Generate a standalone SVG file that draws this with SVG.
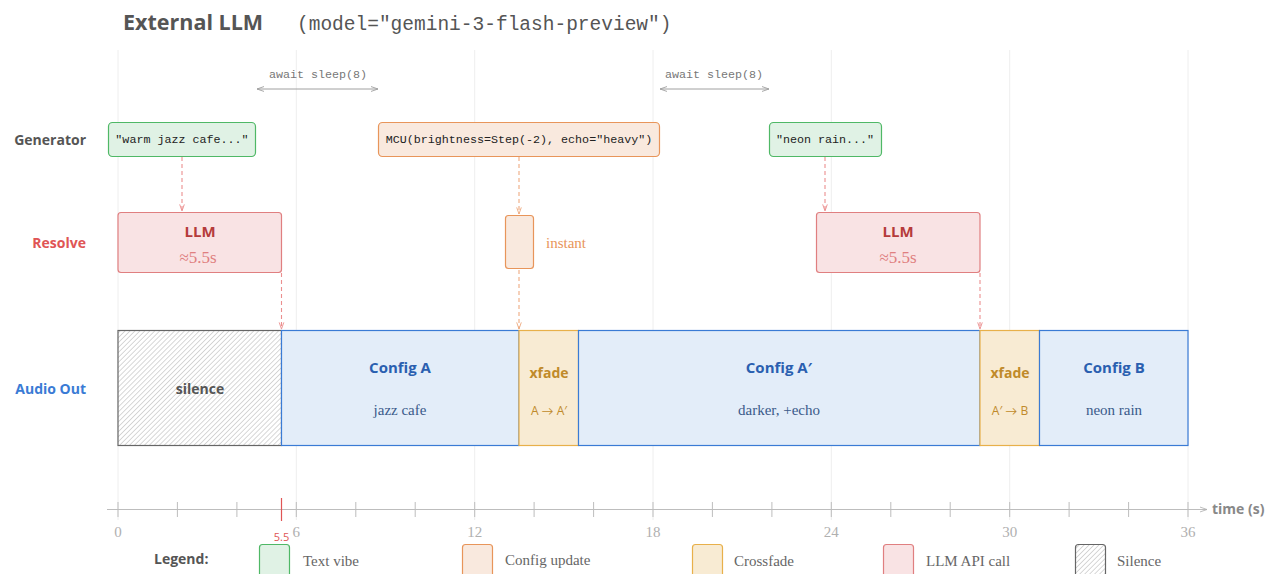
<svg xmlns="http://www.w3.org/2000/svg" width="1272" height="574" viewBox="0 0 1272 574">
  <defs>
    <pattern id="hatch" patternUnits="userSpaceOnUse" width="3.5" height="3.5" patternTransform="rotate(45)">
      <rect width="3.5" height="3.5" fill="#ffffff"/>
      <line x1="0" y1="0" x2="0" y2="3.5" stroke="#a8a8a8" stroke-width="0.9"/>
    </pattern>
    <marker id="arrGray" viewBox="0 0 10 10" refX="10" refY="5" markerWidth="7" markerHeight="7" orient="auto-start-reverse">
      <path d="M0,1.5 L10,5 L0,8.5" fill="none" stroke="#a0a0a0" stroke-width="1.3"/>
    </marker>
    <marker id="arrRed" viewBox="0 0 10 10" refX="10" refY="5" markerWidth="6" markerHeight="6" orient="auto">
      <path d="M0,1.5 L10,5 L0,8.5" fill="none" stroke="#eb8f8f" stroke-width="1.4"/>
    </marker>
    <marker id="arrOrange" viewBox="0 0 10 10" refX="10" refY="5" markerWidth="6" markerHeight="6" orient="auto">
      <path d="M0,1.5 L10,5 L0,8.5" fill="none" stroke="#eeaa80" stroke-width="1.4"/>
    </marker>
    <marker id="arrAxis" viewBox="0 0 10 10" refX="10" refY="5" markerWidth="7" markerHeight="7" orient="auto">
      <path d="M0,1.5 L10,5 L0,8.5" fill="none" stroke="#b0b0b0" stroke-width="1.2"/>
    </marker>
  </defs>
  <style>
    .sans { font-family: "Open Sans", "Lato", "DejaVu Sans", sans-serif; }
    .serif { font-family: "Liberation Serif", "DejaVu Serif", serif; }
    .mono { font-family: "Liberation Mono", "DejaVu Sans Mono", monospace; }
    .grid { stroke: #eeeeee; stroke-width: 1; }
    .tick { stroke: #bdbdbd; stroke-width: 1; }
    .ticklbl { font-family: "Liberation Serif", "DejaVu Serif", serif; font-size: 15px; fill: #b0b0b0; text-anchor: middle; }
    .rowlbl { font-family: "Open Sans", "Lato", sans-serif; font-size: 14px; font-weight: 700; text-anchor: end; }
    .gen { fill: #e0f2e5; stroke: #4fb866; stroke-width: 1.2; }
    .upd { fill: #f9e9de; stroke: #e8955a; stroke-width: 1.2; }
    .llm { fill: #f9e3e4; stroke: #e07f80; stroke-width: 1.2; }
    .cfg { fill: #e3edf9; stroke: #3a7bd5; stroke-width: 1.2; }
    .xf { fill: #f8ebd3; stroke: #e8b04a; stroke-width: 1.2; }
    .sil { fill: url(#hatch); stroke: #666666; stroke-width: 1.2; }
    .code { font-family: "Liberation Mono", "DejaVu Sans Mono", monospace; font-size: 11.7px; fill: #222222; text-anchor: middle; }
    .cfgT { font-family: "Open Sans", "Lato", sans-serif; font-size: 15px; font-weight: 700; fill: #2a5fb0; text-anchor: middle; }
    .cfgS { font-family: "Liberation Serif", "DejaVu Serif", serif; font-size: 15px; fill: #3a5a8a; text-anchor: middle; }
    .xfT { font-family: "Open Sans", "Lato", sans-serif; font-size: 14px; font-weight: 700; fill: #c08a2a; text-anchor: middle; }
    .xfS { font-family: "Open Sans", "Lato", sans-serif; font-size: 12px; fill: #c08a2a; text-anchor: middle; }
    .llmT { font-family: "Open Sans", "Lato", sans-serif; font-size: 15px; font-weight: 700; fill: #b53b3b; text-anchor: middle; }
    .llmS { font-family: "Liberation Serif", "DejaVu Serif", serif; font-size: 17px; fill: #e07f80; text-anchor: middle; }
    .legT { font-family: "Liberation Serif", "DejaVu Serif", serif; font-size: 15px; fill: #666666; }
    .dashR { stroke: #eb8f8f; stroke-width: 1.1; stroke-dasharray: 4 3; fill: none; }
    .dashO { stroke: #eeaa80; stroke-width: 1.1; stroke-dasharray: 4 3; fill: none; }
  </style>

  <rect width="1272" height="574" fill="#ffffff"/>

  <!-- title -->
  <text x="123" y="30" class="sans" font-size="21.5" font-weight="700" fill="#555555">External LLM</text>
  <text x="297" y="30" class="mono" font-size="19.5" fill="#555555">(model="gemini-3-flash-preview")</text>

  <!-- vertical grid every 6 s -->
  <g id="grid">
    <line class="grid" x1="118" y1="50" x2="118" y2="520"/>
    <line class="grid" x1="296.3" y1="50" x2="296.3" y2="520"/>
    <line class="grid" x1="474.7" y1="50" x2="474.7" y2="520"/>
    <line class="grid" x1="653" y1="50" x2="653" y2="520"/>
    <line class="grid" x1="831.3" y1="50" x2="831.3" y2="520"/>
    <line class="grid" x1="1009.7" y1="50" x2="1009.7" y2="520"/>
    <line class="grid" x1="1188" y1="50" x2="1188" y2="520"/>
  </g>

  <!-- row labels -->
  <g id="row-labels">
    <text x="86" y="145" class="rowlbl" fill="#555555">Generator</text>
    <text x="86" y="248" class="rowlbl" fill="#e05555">Resolve</text>
    <text x="86" y="394" class="rowlbl" fill="#3a7bd5">Audio Out</text>
  </g>

  <!-- sleep intervals -->
  <g id="sleeps">
    <text x="318" y="78" class="mono" font-size="11.7" fill="#777777" text-anchor="middle">await sleep(8)</text>
    <line x1="257" y1="89" x2="378" y2="89" stroke="#a0a0a0" stroke-width="1" marker-start="url(#arrGray)" marker-end="url(#arrGray)"/>
    <text x="714" y="78" class="mono" font-size="11.7" fill="#777777" text-anchor="middle">await sleep(8)</text>
    <line x1="660" y1="89" x2="769" y2="89" stroke="#a0a0a0" stroke-width="1" marker-start="url(#arrGray)" marker-end="url(#arrGray)"/>
  </g>

  <!-- connectors -->
  <g id="connectors">
    <line class="dashR" x1="182" y1="157" x2="182" y2="211" marker-end="url(#arrRed)"/>
    <line class="dashO" x1="519" y1="157" x2="519" y2="214" marker-end="url(#arrOrange)"/>
    <line class="dashR" x1="825" y1="157" x2="825" y2="211" marker-end="url(#arrRed)"/>
    <line class="dashR" x1="281.5" y1="273" x2="281.5" y2="329" marker-end="url(#arrRed)"/>
    <line class="dashO" x1="519" y1="270" x2="519" y2="329" marker-end="url(#arrOrange)"/>
    <line class="dashR" x1="980" y1="273" x2="980" y2="329" marker-end="url(#arrRed)"/>
  </g>

  <!-- generator row -->
  <g id="gen-warm-jazz">
    <rect class="gen" x="108.5" y="122.5" width="147" height="34" rx="4"/>
    <text x="182" y="143" class="code">"warm jazz cafe..."</text>
  </g>
  <g id="gen-mcu">
    <rect class="upd" x="378.5" y="122.5" width="281" height="34" rx="4"/>
    <text x="519" y="143" class="code">MCU(brightness=Step(-2), echo="heavy")</text>
  </g>
  <g id="gen-neon-rain">
    <rect class="gen" x="769.5" y="122.5" width="112" height="34" rx="4"/>
    <text x="825" y="143" class="code">"neon rain..."</text>
  </g>

  <!-- resolve row -->
  <g id="llm-1">
    <rect class="llm" x="118" y="212.5" width="163.5" height="60" rx="3"/>
    <text x="200" y="237" class="llmT">LLM</text>
    <text x="198" y="263" class="llmS">≈5.5s</text>
  </g>
  <g id="instant">
    <rect class="upd" x="505.5" y="215.5" width="28" height="53" rx="3"/>
    <text x="546" y="248" class="serif" font-size="15" fill="#e8955a">instant</text>
  </g>
  <g id="llm-2">
    <rect class="llm" x="816.5" y="212.5" width="163.5" height="60" rx="3"/>
    <text x="898" y="237" class="llmT">LLM</text>
    <text x="898" y="263" class="llmS">≈5.5s</text>
  </g>

  <!-- audio out row -->
  <g id="silence">
    <rect class="sil" x="118" y="330.5" width="163.5" height="115"/>
    <text x="200" y="394" class="sans" font-size="14" font-weight="700" fill="#555555" text-anchor="middle">silence</text>
  </g>
  <g id="config-a">
    <rect class="cfg" x="281.5" y="330.5" width="237.5" height="115"/>
    <text x="400" y="373" class="cfgT">Config A</text>
    <text x="400" y="415" class="cfgS">jazz cafe</text>
  </g>
  <g id="xfade-1">
    <rect class="xf" x="519" y="330.5" width="59.5" height="115"/>
    <text x="549" y="378" class="xfT">xfade</text>
    <text x="549" y="415" class="xfS">A → A′</text>
  </g>
  <g id="config-a-prime">
    <rect class="cfg" x="578.5" y="330.5" width="401.5" height="115"/>
    <text x="779" y="373" class="cfgT">Config A′</text>
    <text x="779" y="415" class="cfgS">darker, +echo</text>
  </g>
  <g id="xfade-2">
    <rect class="xf" x="980" y="330.5" width="59.5" height="115"/>
    <text x="1010" y="378" class="xfT">xfade</text>
    <text x="1010" y="415" class="xfS">A′ → B</text>
  </g>
  <g id="config-b">
    <rect class="cfg" x="1039.5" y="330.5" width="148.5" height="115"/>
    <text x="1114" y="373" class="cfgT">Config B</text>
    <text x="1114" y="415" class="cfgS">neon rain</text>
  </g>

  <!-- time axis -->
  <g id="axis">
    <line x1="107" y1="509.5" x2="1207" y2="509.5" stroke="#bdbdbd" stroke-width="1" marker-end="url(#arrAxis)"/>
    <g class="tick">
      <line x1="118" y1="502" x2="118" y2="517"/>
      <line x1="177.4" y1="502" x2="177.4" y2="517"/>
      <line x1="236.9" y1="502" x2="236.9" y2="517"/>
      <line x1="296.3" y1="502" x2="296.3" y2="517"/>
      <line x1="355.8" y1="502" x2="355.8" y2="517"/>
      <line x1="415.2" y1="502" x2="415.2" y2="517"/>
      <line x1="474.7" y1="502" x2="474.7" y2="517"/>
      <line x1="534.1" y1="502" x2="534.1" y2="517"/>
      <line x1="593.6" y1="502" x2="593.6" y2="517"/>
      <line x1="653" y1="502" x2="653" y2="517"/>
      <line x1="712.4" y1="502" x2="712.4" y2="517"/>
      <line x1="771.9" y1="502" x2="771.9" y2="517"/>
      <line x1="831.3" y1="502" x2="831.3" y2="517"/>
      <line x1="890.8" y1="502" x2="890.8" y2="517"/>
      <line x1="950.2" y1="502" x2="950.2" y2="517"/>
      <line x1="1009.7" y1="502" x2="1009.7" y2="517"/>
      <line x1="1069.1" y1="502" x2="1069.1" y2="517"/>
      <line x1="1128.6" y1="502" x2="1128.6" y2="517"/>
      <line x1="1188" y1="502" x2="1188" y2="517"/>
    </g>
    <line x1="281.5" y1="498" x2="281.5" y2="521" stroke="#e05555" stroke-width="1.2"/>
    <text x="118" y="537" class="ticklbl">0</text>
    <text x="296.3" y="537" class="ticklbl">6</text>
    <text x="474.7" y="537" class="ticklbl">12</text>
    <text x="653" y="537" class="ticklbl">18</text>
    <text x="831.3" y="537" class="ticklbl">24</text>
    <text x="1009.7" y="537" class="ticklbl">30</text>
    <text x="1188" y="537" class="ticklbl">36</text>
    <text x="281.5" y="541" class="sans" font-size="11" fill="#e05555" text-anchor="middle">5.5</text>
    <text x="1212" y="514" class="sans" font-size="14" font-weight="700" fill="#888888">time (s)</text>
  </g>

  <!-- legend -->
  <g id="legend">
    <text x="154" y="564" class="sans" font-size="14" font-weight="700" fill="#555555">Legend:</text>
    <rect class="gen" x="259.5" y="544.5" width="30" height="34" rx="3"/>
    <text x="303" y="566" class="legT">Text vibe</text>
    <rect class="upd" x="462.5" y="544.5" width="30" height="34" rx="3"/>
    <text x="505" y="565" class="legT">Config update</text>
    <rect class="xf" x="692.5" y="544.5" width="30" height="34" rx="3"/>
    <text x="734" y="566" class="legT">Crossfade</text>
    <rect class="llm" x="883.5" y="544.5" width="30" height="34" rx="3"/>
    <text x="926" y="566" class="legT">LLM API call</text>
    <rect class="sil" x="1075.5" y="544.5" width="30" height="34" rx="3"/>
    <text x="1117" y="566" class="legT">Silence</text>
  </g>
</svg>
